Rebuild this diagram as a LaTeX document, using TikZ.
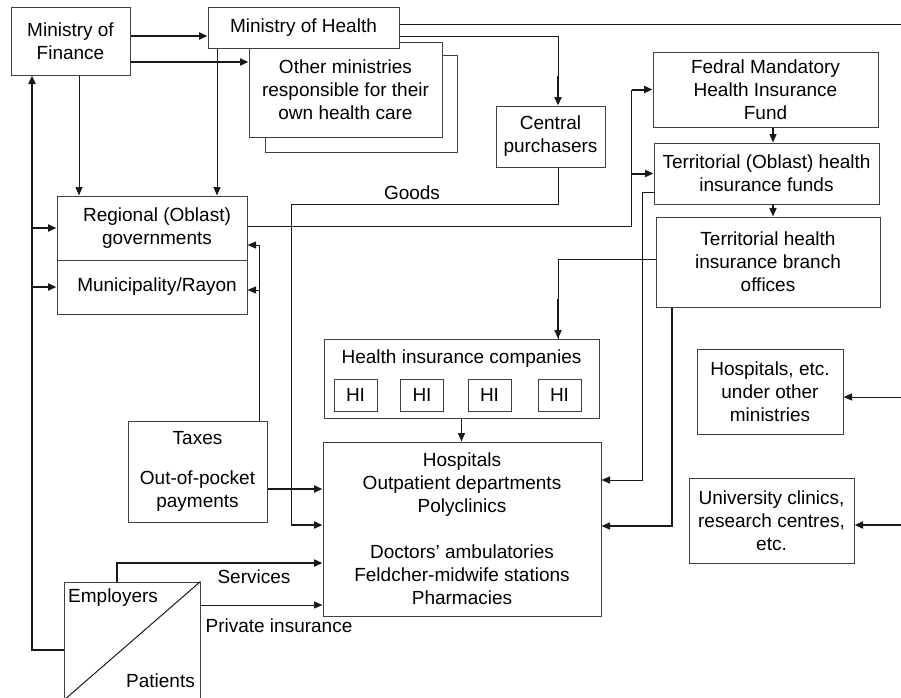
\documentclass[tikz,border=0pt]{standalone}
\usepackage{fontspec}
\setmainfont{Liberation Sans}
\usetikzlibrary{arrows.meta}
\begin{document}
\begin{tikzpicture}[x=1pt,y=-1pt,
  font=\fontsize{19}{23}\selectfont,
  box/.style={draw=black!75, line width=1pt, fill=white, inner sep=0pt, align=center},
  thn/.style={line width=1pt, draw=black!90},
  thk/.style={line width=2pt, draw=black!90},
  med/.style={line width=1.5pt, draw=black!90},
  arr/.style={-{Triangle[length=8.5pt,width=7pt]}},
  lbl/.style={inner sep=0pt}]
\useasboundingbox (0,0) rectangle (901,697);
\clip (0,0) rectangle (901,697);

% boxes
\node[box, minimum width=192pt, minimum height=97pt] (othb) at (361,103.5) {};
\node[box, minimum width=193pt, minimum height=95pt] (oth) at (345.5,89.5) {Other ministries\\responsible for their\\own health care};
\node[box, minimum width=191pt, minimum height=41pt] (moh) at (303.5,27.5) {Ministry of Health};
\node[box, minimum width=119pt, minimum height=68pt] (mof) at (70.5,41) {Ministry of\\Finance};
\node[box, minimum width=109pt, minimum height=61pt] (cp) at (550.5,136.5) {Central\\purchasers};
\node[box, minimum width=225pt, minimum height=75pt] (fmhif) at (765.5,89.5) {Fedral Mandatory\\Health Insurance\\Fund};
\node[box, minimum width=225pt, minimum height=61pt] (toh) at (766.5,173.5) {Territorial (Oblast) health\\insurance funds};
\node[box, minimum width=224pt, minimum height=90pt] (tbr) at (768,262) {Territorial health\\insurance branch\\offices};
\node[box, minimum width=190pt, minimum height=64pt] (reg) at (152,228) {\hspace*{10pt}Regional (Oblast)\\\hspace*{10pt}governments};
\node[box, minimum width=190pt, minimum height=54pt] (mun) at (152,287) {\hspace*{10pt}Municipality/Rayon};
\node[box, minimum width=275pt, minimum height=79pt] (hic) at (461.5,378.5) {};
\node[lbl] (hict) at (461.5,359) {Health insurance companies};
\foreach \n/\x in {1/355.5,2/422,3/489.5,4/559.5}
  \node[box, minimum width=43pt, minimum height=32pt] (hi\n) at (\x,395) {HI};
\node[box, minimum width=278pt, minimum height=174pt] (hosp) at (462,529) {Hospitals\\Outpatient departments\\Polyclinics\\[23pt]Doctors’ ambulatories\\Feldcher-midwife stations\\Pharmacies};
\node[box, minimum width=146pt, minimum height=85pt] (hom) at (770,391.5) {Hospitals, etc.\\under other\\ministries};
\node[box, minimum width=165pt, minimum height=85pt] (uni) at (771.5,520.5) {University clinics,\\research centres,\\etc.};
\node[box, minimum width=139pt, minimum height=101pt] (tax) at (197.5,471.5) {Taxes\\[17pt]Out-of-pocket\\payments};
\node[box, minimum width=136pt, minimum height=118pt] (emp) at (132,641) {};
\draw[thn] (emp.north east) -- (emp.south west);
\node[lbl, anchor=west] (empt) at (68,598) {Employers};
\node[lbl, anchor=east] (patt) at (195,681) {Patients};

\coordinate (rightedge) at (901,0);

% labels
\node[lbl] (goods) at (412,193) {Goods};
\node[lbl] (serv) at (254,577) {Services};
\node[lbl] (priv) at (279,626) {Private insurance};

% connectors
\draw[thk,arr] ([yshift=5pt]mof.east) coordinate (t) -- (t -| moh.west);
\draw[thk,arr] ([yshift=-21pt]mof.east) coordinate (t) -- (t -| oth.west);
\draw[thn,arr] ([xshift=8.5pt]mof.south) coordinate (t) -- (t |- reg.north);
\draw[thn,arr] ([xshift=-86.5pt]moh.south) coordinate (t) -- (t |- reg.north);
\draw[thn] ([yshift=3.5pt]moh.east) coordinate (t) -- (t -| rightedge);
\draw[thn] ([yshift=-8.5pt]moh.east) -| ([xshift=7.5pt,yshift=30pt]cp.north);
\draw[thk,arr] ([xshift=7.5pt,yshift=30pt]cp.north) -- ([xshift=7.5pt]cp.north);
\draw[thk,arr] ([yshift=-9pt]emp.west) -| ([xshift=-38.5pt]mof.south);
\draw[thk,arr] ([xshift=-25pt]reg.west) -- (reg.west);
\draw[thk,arr] ([xshift=-25pt]mun.west) -- (mun.west);
\draw[thn] ([yshift=2pt]reg.east) -| ([xshift=-21pt]fmhif.west);
\draw[thk,arr] ([xshift=-21pt]fmhif.west) -- (fmhif.west);
\draw[thk,arr] ([xshift=-22pt]toh.west) -- (toh.west);
\draw[med,arr] ([xshift=7.5pt]fmhif.south) coordinate (t) -- (t |- toh.north);
\draw[med,arr] ([xshift=6.5pt]toh.south) coordinate (t) -- (t |- tbr.north);
\draw[thn,arr] ([yshift=-18.5pt]toh.west) -- ++(-11,0) |- ([yshift=49pt]hosp.east);
\draw[med,arr] ([xshift=-96pt]tbr.south) |- ([yshift=3pt]hosp.east);
\draw[thn] ([yshift=3pt]tbr.west) -| ([xshift=96.5pt]hic.north);
\draw[thk,arr] ([xshift=96.5pt,yshift=40pt]hic.north) -- ([xshift=96.5pt]hic.north);
\draw[med,arr] (hic.south) -- (hic.south |- hosp.north);
\draw[thn] ([xshift=7.5pt]cp.south) -- ++(0,37) -- ++(-267,0) |- ([xshift=-32pt,yshift=4pt]hosp.west);
\draw[thk,arr] ([xshift=-32pt,yshift=4pt]hosp.west) -- ([yshift=4pt]hosp.west);
\draw[thk,arr] ([yshift=-17.5pt]tax.east) coordinate (t) -- (t -| hosp.west);
\draw[thn,arr] ([xshift=61.5pt]tax.north) |- ([yshift=-17pt]reg.east);
\draw[thn,arr] ([xshift=12pt,yshift=-3pt]mun.east) -- ([yshift=-3pt]mun.east);
\draw[thk,arr] ([xshift=-15pt]emp.north) |- ([yshift=-34pt]hosp.west);
\draw[thn,arr] ([yshift=36pt]emp.east) coordinate (t) -- (t -| hosp.west);
\path ([yshift=-5.5pt]hom.east) coordinate (h1);
\draw[thn,arr] (rightedge |- h1) -- (h1);
\path ([yshift=-4.5pt]uni.east) coordinate (u1);
\draw[thk,arr] (rightedge |- u1) -- (u1);
\end{tikzpicture}
\end{document}
